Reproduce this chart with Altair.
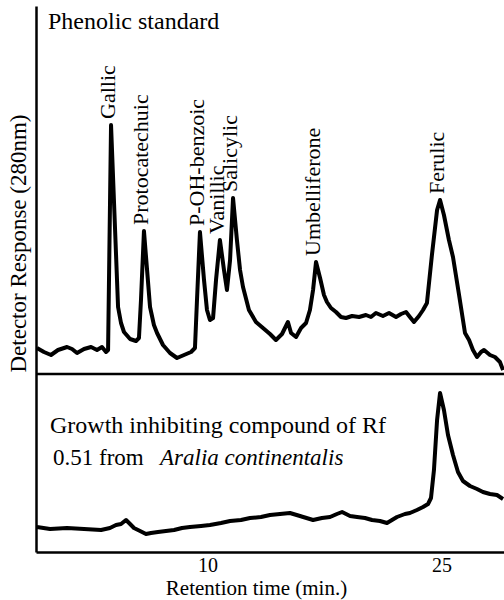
import altair as alt
import pandas as pd

# ---- Data ----
# Upper trace: phenolic standard (retention time in min, detector response in arbitrary units)
top_time = [-0.94, -0.49, -0.04, 0.41, 0.99, 1.31, 1.63, 2.08, 2.53, 2.91, 3.23, 3.49, 3.62, 3.81,
            4.26, 4.45, 4.64, 5.03, 5.41, 5.60, 5.73, 5.92, 6.12, 6.31, 6.56, 6.76, 7.14, 7.59,
            8.04, 8.49, 8.94, 9.19, 9.32, 9.51, 9.77, 9.96, 10.15, 10.35, 10.54, 10.79, 11.05,
            11.24, 11.44, 11.63, 11.88, 12.08, 12.27, 12.65, 13.10, 13.55, 14.00, 14.38, 14.77,
            15.15, 15.35, 15.67, 15.99, 16.31, 16.56, 16.76, 16.95, 17.21, 17.46, 17.65, 17.91,
            18.23, 18.55, 18.87, 19.26, 19.71, 20.15, 20.47, 20.79, 21.24, 21.63, 22.08, 22.40,
            22.72, 22.97, 23.23, 23.55, 23.81, 24.06, 24.38, 24.71, 24.90, 25.15, 25.47, 25.73,
            26.12, 26.50, 26.76, 27.01, 27.27, 27.53, 27.72, 28.10, 28.42, 28.74, 28.94]
top_resp = [26, 22, 19, 24, 27, 25, 21, 25, 27, 24, 27, 22, 24, 249,
            67, 51, 42, 35, 33, 36, 74, 143, 104, 67, 49, 41, 29, 21,
            16, 19, 22, 26, 74, 142, 94, 64, 54, 56, 94, 134, 104,
            84, 114, 176, 134, 104, 87, 64, 52, 46, 40, 34, 40,
            52, 41, 37, 46, 51, 64, 84, 112, 96, 79, 72, 66,
            62, 57, 56, 58, 57, 59, 57, 61, 58, 61, 57, 60,
            62, 57, 52, 58, 64, 71, 119, 164, 174, 159, 134, 117,
            79, 41, 34, 24, 17, 22, 24, 19, 17, 12, 4]

# Lower trace: growth inhibiting compound (Rf 0.51) from Aralia continentalis
bot_time = [-0.94, -0.10, 0.99, 2.08, 3.17, 3.74, 4.13, 4.45, 4.77, 5.03, 5.28, 5.67, 6.05,
            6.37, 6.82, 7.33, 7.85, 8.36, 8.87, 9.58, 10.15, 10.86, 11.44, 12.14, 12.72, 13.42,
            14.00, 14.64, 15.28, 15.92, 16.76, 17.33, 17.85, 18.29, 18.62, 19.13, 19.58, 20.09,
            20.54, 21.05, 21.50, 21.82, 22.14, 22.65, 22.97, 23.42, 23.81, 24.13, 24.32, 24.51,
            24.71, 24.90, 25.15, 25.41, 25.73, 26.05, 26.37, 26.82, 27.27, 27.65, 28.10, 28.55, 28.94]
bot_resp = [25, 23, 24, 23, 22, 24, 27, 28, 32, 28, 24, 21, 18,
            19, 20, 21, 22, 24, 25, 26, 27, 29, 31, 32, 34, 35,
            37, 38, 39, 36, 32, 34, 35, 38, 40, 36, 35, 34,
            32, 31, 29, 32, 35, 38, 39, 42, 45, 48, 54, 82,
            132, 159, 142, 117, 97, 80, 71, 66, 63, 60, 58, 57, 53]

# Peak identities in the standard
peak_names = ["Gallic", "Protocatechuic", "P-OH-benzoic", "Vanillic", "Salicylic",
              "Umbelliferone", "Ferulic"]
peak_time = [3.81, 5.92, 9.51, 10.79, 11.63, 16.95, 24.90]
peak_resp = [249, 143, 142, 134, 176, 112, 174]

tick_values = [10, 25]

# ---- Layout constants ----
PANEL = 178          # height of the lower panel in response units (stacking offset)
FONT = "Liberation Serif"

top = pd.DataFrame({"time": top_time, "resp": [r + PANEL for r in top_resp], "trace": "standard"})
bot = pd.DataFrame({"time": bot_time, "resp": bot_resp, "trace": "sample"})
traces = pd.concat([top, bot], ignore_index=True)
peaks = pd.DataFrame({"name": peak_names, "time": peak_time,
                      "resp": [r + PANEL for r in peak_resp]})

x_scale = alt.Scale(domain=[-1, 29], nice=False, zero=False)
y_scale = alt.Scale(domain=[0, 546], nice=False, zero=False)

x_axis = alt.Axis(values=tick_values, ticks=False, grid=False,
                  domainColor="black", domainWidth=2.5,
                  labelFont=FONT, labelFontSize=20, labelColor="black", labelPadding=3,
                  title="Retention time (min.)", titleFont=FONT, titleFontSize=21,
                  titleFontWeight="normal", titleColor="black",
                  titleX=220, titleY=42, titleAlign="center",
                  titleBaseline="alphabetic")
y_axis = alt.Axis(labels=False, ticks=False, grid=False,
                  domainColor="black", domainWidth=2.5,
                  title="Detector Response (280nm)", titleFont=FONT, titleFontSize=23,
                  titleFontWeight="normal", titleColor="black",
                  titleAngle=270, titleX=-18, titleY=237, titleAlign="center",
                  titleBaseline="middle")

lines = alt.Chart(traces).mark_line(color="black", strokeWidth=4, strokeJoin="round").encode(
    x=alt.X("time:Q", scale=x_scale, axis=x_axis),
    y=alt.Y("resp:Q", scale=y_scale, axis=y_axis),
    detail="trace:N",
)

divider = alt.Chart(pd.DataFrame({"k": [0]})).mark_rule(color="black", strokeWidth=2.5).encode(
    y=alt.datum(PANEL, scale=y_scale, axis=y_axis)
)

labels = alt.Chart(peaks).mark_text(
    angle=270, align="left", baseline="middle", dx=6, dy=-3,
    font=FONT, fontSize=22, color="black"
).encode(
    x=alt.X("time:Q", scale=x_scale, axis=x_axis),
    y=alt.Y("resp:Q", scale=y_scale, axis=y_axis),
    text="name:N",
)


def note(text, px, py, size, style="normal"):
    return alt.Chart(pd.DataFrame({"t": [text]})).mark_text(
        align="left", baseline="alphabetic", font=FONT, fontSize=size,
        fontStyle=style, color="black"
    ).encode(x=alt.value(px), y=alt.value(py), text="t:N")


notes = [
    note("Phenolic standard", 12, 23, 24),
    note("Growth inhibiting compound of Rf", 14, 427, 24),
    note("0.51 from", 17, 459, 23),
    note("Aralia continentalis", 124, 459, 23, "italic"),
]

chart = alt.layer(lines, divider, labels, *notes).properties(
    width=468, height=546,
    padding={"left": 36, "top": 6, "right": 0, "bottom": 48},
    autosize=alt.AutoSizeParams(type="none"),
    background="white",
).configure(font=FONT).configure_text(font=FONT).configure_axis(
    labelFont=FONT, titleFont=FONT
).configure_axisX(titleFontSize=21, labelFontSize=20).configure_view(strokeWidth=0)

chart.save("out.html", embed_options={"renderer": "svg", "actions": False})
